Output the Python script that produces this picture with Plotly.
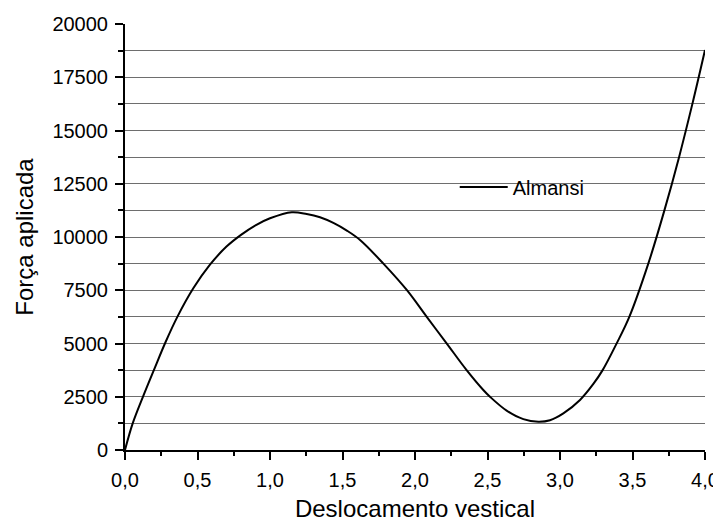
import plotly.graph_objects as go

# Curve
deslocamento = [0.0, 0.053, 0.125, 0.202, 0.28, 0.361, 0.471, 0.586, 0.70, 0.80, 0.90, 1.0,
                1.15, 1.253, 1.345, 1.437, 1.53, 1.621, 1.782, 1.943, 2.081, 2.218,
                2.356, 2.471, 2.517, 2.632, 2.747, 2.851, 2.931, 3.023, 3.138, 3.23,
                3.294, 3.391, 3.478, 3.609, 3.72, 3.821, 3.913, 4.0]
forca = [0, 1250, 2520, 3800, 5070, 6250, 7590, 8700, 9550, 10100, 10550, 10880,
         11165, 11080, 10925, 10660, 10300, 9860, 8750, 7512, 6250, 5008,
         3750, 2817, 2500, 1850, 1450, 1330, 1400, 1720, 2350, 3100,
         3750, 5008, 6250, 8750, 11250, 13750, 16250, 18780]

x_tickvals = [0, 0.5, 1.0, 1.5, 2.0, 2.5, 3.0, 3.5, 4.0]
x_ticktext = ["0,0", "0,5", "1,0", "1,5", "2,0", "2,5", "3,0", "3,5", "4,0"]
y_tickvals = [0, 2500, 5000, 7500, 10000, 12500, 15000, 17500, 20000]
y_ticktext = ["0", "2500", "5000", "7500", "10000", "12500", "15000", "17500", "20000"]

FONT = "Arial, Liberation Sans, sans-serif"

fig = go.Figure()
fig.add_trace(go.Scatter(
    x=deslocamento, y=forca, mode="lines", name="Almansi",
    line=dict(color="black", width=2, shape="spline", smoothing=1.0),
))

# The page body adds an 8px offset, so the figure is 8px smaller on each axis
fig.update_layout(
    width=713, height=514,
    margin=dict(l=117, r=16, t=16, b=72),
    paper_bgcolor="white", plot_bgcolor="white",
    font=dict(family=FONT, color="black", size=20),
    showlegend=True,
    legend=dict(x=0.5685, y=0.6176, xanchor="left", yanchor="middle",
                bgcolor="rgba(0,0,0,0)", borderwidth=0,
                font=dict(size=20, family=FONT), itemwidth=48),
    xaxis=dict(
        range=[0, 4], showline=True, linecolor="black", linewidth=2,
        ticks="outside", ticklen=8, tickwidth=2, tickcolor="black",
        tickvals=x_tickvals, ticktext=x_ticktext, showgrid=False, zeroline=False,
        automargin=False, ticklabelstandoff=3,
        minor=dict(ticks="outside", ticklen=4, tickwidth=2, tickcolor="black",
                   dtick=0.25, tick0=0, showgrid=False),
        title=dict(text="Deslocamento vestical", font=dict(size=24, family=FONT), standoff=10),
        tickfont=dict(size=20, family=FONT),
    ),
    yaxis=dict(
        range=[0, 20000], showline=True, linecolor="black", linewidth=2,
        ticks="outside", ticklen=8, tickwidth=2, tickcolor="black",
        tickvals=y_tickvals, ticktext=y_ticktext, showgrid=False, zeroline=False,
        automargin=False, ticklabelstandoff=3,
        minor=dict(ticks="outside", ticklen=5, tickwidth=2, tickcolor="black",
                   dtick=1250, tick0=0, showgrid=True, gridcolor="#6e6e6e", gridwidth=1),
        title=dict(text="Força aplicada", font=dict(size=24, family=FONT), standoff=12),
        tickfont=dict(size=20, family=FONT),
    ),
)

fig.write_html("out.html")
